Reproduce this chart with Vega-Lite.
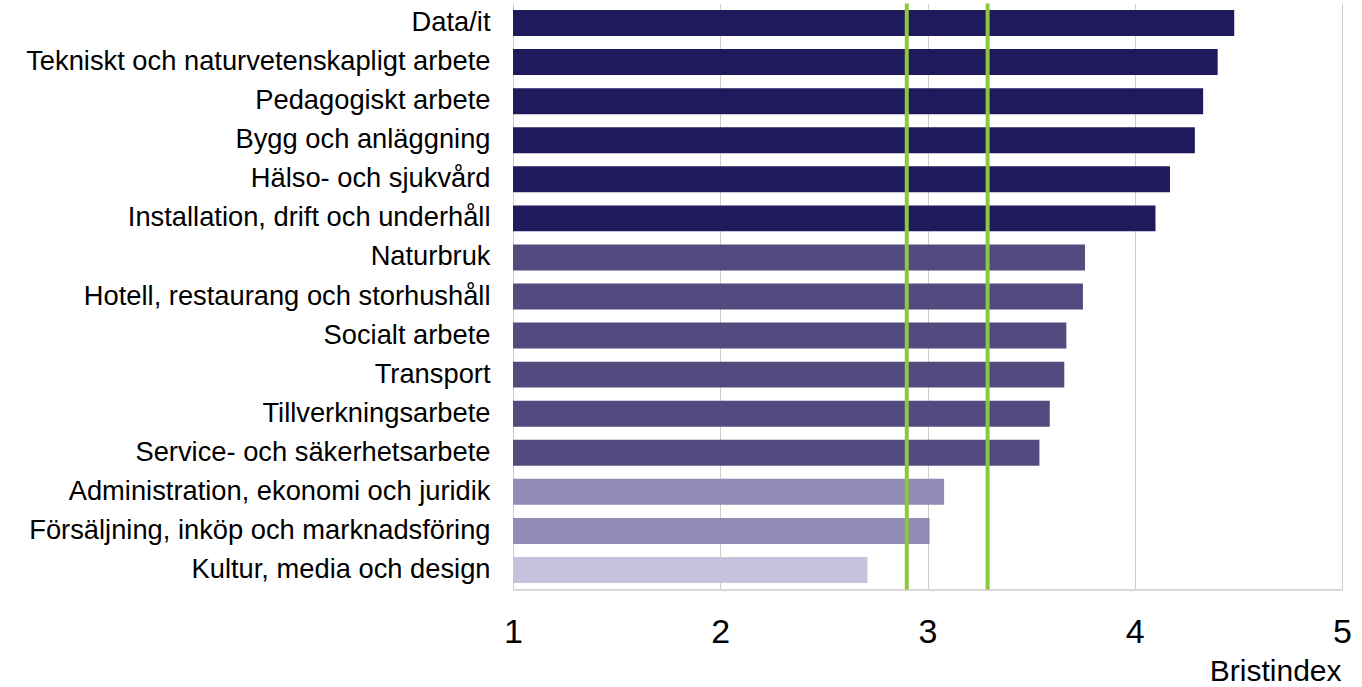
{
  "$schema": "https://vega.github.io/schema/vega-lite/v6.json",
  "autosize": {"type": "none"},
  "padding": {"left": 513, "top": 3.5, "right": 20, "bottom": 97.5},
  "width": 829,
  "height": 586,
  "background": "white",
  "config": {
    "view": {"stroke": null},
    "font": "Liberation Sans"
  },
  "datasets": {
    "bars": [
      {"yrke": "Data/it", "bristindex": 4.48, "grupp": "A"},
      {"yrke": "Tekniskt och naturvetenskapligt arbete", "bristindex": 4.40, "grupp": "A"},
      {"yrke": "Pedagogiskt arbete", "bristindex": 4.33, "grupp": "A"},
      {"yrke": "Bygg och anläggning", "bristindex": 4.29, "grupp": "A"},
      {"yrke": "Hälso- och sjukvård", "bristindex": 4.17, "grupp": "A"},
      {"yrke": "Installation, drift och underhåll", "bristindex": 4.10, "grupp": "A"},
      {"yrke": "Naturbruk", "bristindex": 3.76, "grupp": "B"},
      {"yrke": "Hotell, restaurang och storhushåll", "bristindex": 3.75, "grupp": "B"},
      {"yrke": "Socialt arbete", "bristindex": 3.67, "grupp": "B"},
      {"yrke": "Transport", "bristindex": 3.66, "grupp": "B"},
      {"yrke": "Tillverkningsarbete", "bristindex": 3.59, "grupp": "B"},
      {"yrke": "Service- och säkerhetsarbete", "bristindex": 3.54, "grupp": "B"},
      {"yrke": "Administration, ekonomi och juridik", "bristindex": 3.08, "grupp": "C"},
      {"yrke": "Försäljning, inköp och marknadsföring", "bristindex": 3.01, "grupp": "C"},
      {"yrke": "Kultur, media och design", "bristindex": 2.71, "grupp": "D"}
    ],
    "linjer": [
      {"grans": 2.9},
      {"grans": 3.29}
    ]
  },
  "layer": [
    {
      "data": {"name": "bars"},
      "mark": {"type": "bar"},
      "encoding": {
        "y": {
          "field": "yrke",
          "type": "nominal",
          "sort": null,
          "scale": {"paddingInner": 0.335, "paddingOuter": 0.1675},
          "axis": {
            "title": null,
            "ticks": false,
            "domain": false,
            "labelFontSize": 27.3,
            "labelColor": "#000000",
            "labelPadding": 23,
            "labelLimit": 0
          }
        },
        "x": {
          "field": "bristindex",
          "type": "quantitative",
          "scale": {"domain": [1, 5], "zero": false, "nice": false},
          "axis": {
            "values": [1, 2, 3, 4, 5],
            "format": "d",
            "grid": true,
            "gridColor": "#d3cdc0",
            "gridWidth": 1,
            "ticks": false,
            "domainColor": "#d9d9d9",
            "domainWidth": 2,
            "labelFontSize": 34,
            "labelColor": "#000000",
            "labelBaseline": "alphabetic",
            "labelPadding": 53,
            "labelFlush": false,
            "title": "Bristindex",
            "titleFontSize": 30,
            "titleFontWeight": "normal",
            "titleColor": "#000000",
            "titleAlign": "right",
            "titleBaseline": "alphabetic",
            "titleX": 828,
            "titleY": 91
          }
        },
        "x2": {"datum": 1},
        "color": {
          "field": "grupp",
          "type": "nominal",
          "scale": {"domain": ["A", "B", "C", "D"], "range": ["#1f1a5b", "#534a80", "#918cb5", "#c6c3dc"]},
          "legend": null
        }
      }
    },
    {
      "data": {"name": "linjer"},
      "mark": {"type": "rule", "color": "#8dc63f", "strokeWidth": 4},
      "encoding": {
        "x": {"field": "grans", "type": "quantitative"}
      }
    }
  ]
}
